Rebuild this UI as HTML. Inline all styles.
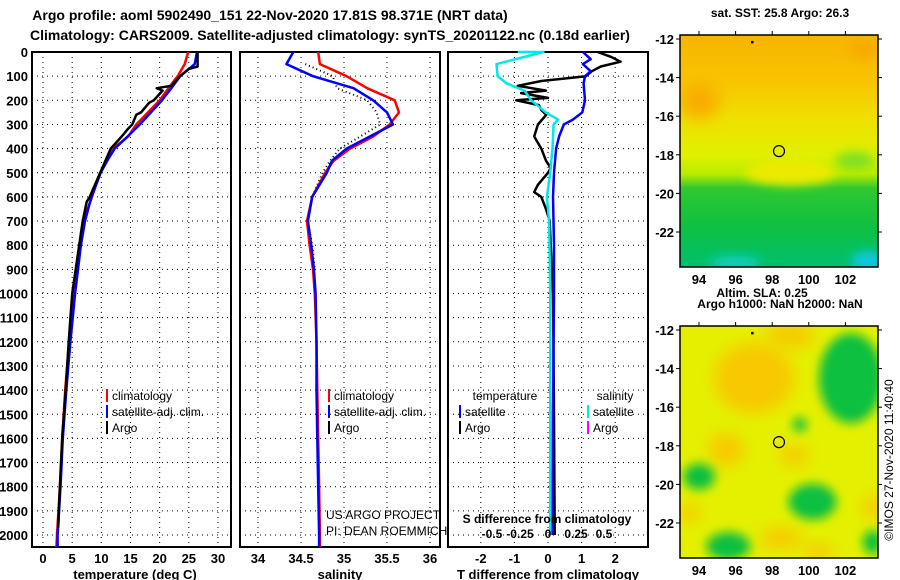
<!DOCTYPE html>
<html><head><meta charset="utf-8"><style>
html,body{margin:0;padding:0;background:#fff;}
svg{display:block;font-family:"Liberation Sans",sans-serif;font-weight:bold;}
</style></head><body>
<svg id="fig" width="900" height="580" viewBox="0 0 900 580">
<defs>
<filter id="blur8" x="-50%" y="-50%" width="200%" height="200%"><feGaussianBlur stdDeviation="8"/></filter>
<filter id="blur5" x="-50%" y="-50%" width="200%" height="200%"><feGaussianBlur stdDeviation="5"/></filter>
<linearGradient id="sstg" x1="0" y1="0" x2="0" y2="1">
<stop offset="0" stop-color="#f8b400"/><stop offset="0.2" stop-color="#f8c400"/>
<stop offset="0.36" stop-color="#f0e000"/><stop offset="0.52" stop-color="#e0f000"/>
<stop offset="0.6" stop-color="#b8ec00"/><stop offset="0.66" stop-color="#30c830"/>
<stop offset="0.82" stop-color="#10c040"/><stop offset="1" stop-color="#00c070"/></linearGradient>
<clipPath id="m1clip"><rect x="680" y="35" width="198" height="232"/></clipPath>
<clipPath id="m2clip"><rect x="680" y="326" width="198" height="232"/></clipPath>
</defs>
<text x="270" y="20" font-size="14" text-anchor="middle">Argo profile: aoml 5902490_151 22-Nov-2020 17.81S 98.371E (NRT data)</text>
<text x="330" y="40" font-size="14" text-anchor="middle">Climatology: CARS2009. Satellite-adjusted climatology: synTS_20201122.nc (0.18d earlier)</text>
<g id="plots"></g>
<g id="maps"></g>
</svg>
<script>
// ---------- data ----------
const depthTicks = [0,100,200,300,400,500,600,700,800,900,1000,1100,1200,1300,1400,1500,1600,1700,1800,1900,2000];
const tempTicks = [0,5,10,15,20,25,30];
const salTicks = [34,34.5,35,35.5,36];
const salTickLabels = ['34','34.5','35','35.5','36'];
const tdiffTicks = [-2,-1,0,1,2];
const sdiffTicks = [-0.5,-0.25,0,0.25,0.5];

const climDepth = [0,50,100,150,200,250,300,350,400,450,500,600,700,800,900,1000,1200,1400,1600,1800,2000,2050];
const climTemp  = [24.9,24.3,23.1,21.5,20,18,16,14.6,12,11,9.8,8.4,6.9,6.3,6,5.3,4.5,3.8,3.3,2.9,2.4,2.3];
const satTemp   = [26.4,26,23.5,22,20.4,18.5,16.6,14.5,12.3,11,9.9,8.3,7.2,6.5,6,5.5,4.7,4,3.4,3,2.5,2.5];
const argoDepth = [0,60,70,100,140,150,160,200,210,250,260,300,320,350,400,500,600,620,700,800,1000,1200,1400,1600,1800,1970];
const argoTemp  = [26.5,26.5,25,23.5,22,19.5,20.5,19,18.2,16.8,16,15.3,14.5,13.5,11.6,9.8,8,7.5,6.8,6.2,5,4.4,3.9,3.3,2.9,2.6];

const climSal = [34.70,34.72,35.03,35.27,35.59,35.64,35.53,35.34,35.07,34.88,34.78,34.63,34.57,34.60,34.64,34.66,34.68,34.69,34.70,34.71,34.72,34.72];
const satSal  = [34.41,34.33,34.64,35.11,35.34,35.50,35.57,35.30,35.03,34.86,34.80,34.63,34.58,34.62,34.65,34.67,34.68,34.68,34.69,34.70,34.71,34.71];
const argoSalDepth = [50,100,150,200,250,300,350,400,450,500,600,700,800,900];
const argoSal = [34.55,34.87,34.92,35.27,35.38,35.42,35.19,34.95,34.84,34.75,34.63,34.58,34.63,34.66];

const tdArgoDepth = [0,20,40,60,80,100,120,140,160,170,190,200,220,240,260,300,350,400,450,480,500,550,580,600,650,700,800,1000,1500,2000];
const tdArgo = [1.48,1.87,2.16,1.57,1.3,1.13,-0.2,-0.9,-0.06,-0.8,0,-0.95,-0.27,-0.2,-0.05,-0.3,-0.41,-0.2,-0.06,0.08,0,-0.3,-0.41,-0.2,-0.06,0.05,0.08,0.15,0.18,0.2];
const tdSatDepth = [0,30,50,80,100,130,200,250,280,300,350,400,500,600,800,1000,1500,2000];
const tdSat = [1.04,1.27,1.04,1.27,1.1,1.06,1.1,1.02,0.74,0.47,0.33,0.24,0.18,0.15,0.18,0.18,0.15,0.14];
const sdSatDepth = [0,0,50,100,130,160,200,250,280,300,400,500,600,700,1000,1500,2000];
const sdSat = [-0.27,-0.04,-0.46,-0.45,-0.37,-0.21,-0.15,-0.02,0.09,0.05,0.04,0.02,-0.01,0.01,0.02,0.02,0.02];

const lonTicks = [94,96,98,100,102];
const latTicks = [-12,-14,-16,-18,-20,-22];
const argoLon = 98.371, argoLat = -17.81;

// ---------- helpers ----------
const NS='http://www.w3.org/2000/svg';
const plots=document.getElementById('plots'), maps=document.getElementById('maps');
function mk(tag,attrs,parent){const e=document.createElementNS(NS,tag);for(const k in attrs)e.setAttribute(k,attrs[k]);parent.appendChild(e);return e;}
function txt(parent,x,y,s,size,anchor){const t=mk('text',{x:x,y:y,'font-size':size,'text-anchor':anchor||'middle'},parent);t.textContent=s;return t;}
const PT=52, PB=547;
const yD = d => PT + d*0.2415;
const panels = [
 {name:'temperature', l:32, r:231, x:v=>43+v*5.833},
 {name:'salinity', l:240, r:440, x:v=>258+(v-34)*86},
 {name:'difference', l:448, r:648, x:v=>548+v*33.6}
];
const xS = v => 548 + v*112;

panels.forEach(p=>{
  const g=mk('g',{},plots);
  
  
  const grid=mk('g',{stroke:'#000','stroke-width':1,'stroke-dasharray':'1 4'},g);
  
  
  depthTicks.forEach(d=>{ if(d>0) mk('line',{x1:p.l,x2:p.r,y1:yD(d),y2:yD(d)},grid); });
  const ticks = p.name==='temperature'?tempTicks:p.name==='salinity'?salTicks:tdiffTicks;
  ticks.forEach(v=>mk('line',{x1:p.x(v),x2:p.x(v),y1:PT,y2:PB},grid));
  const fr=mk('rect',{x:p.l,y:PT,width:p.r-p.l,height:PB-PT,fill:'none',stroke:'#000','stroke-width':2},g);
  
  
  ticks.forEach((v,i)=>{
    const lbl = p.name==='salinity'?salTickLabels[i]:String(v);
    const t=txt(g,p.x(v),563,lbl,13);
    
    
  });
});
depthTicks.forEach(d=>{
  const t=txt(plots,28,yD(d)+5,String(d),13,'end');
  
  
});
[['temperature (deg C)',135],['salinity',340],['T difference from climatology',548]].forEach(a=>{
  const t=txt(plots,a[1],579,a[0],13);
  
  
});

function line(xs,ds,xf,color,w,name,dash){
  const pts=xs.map((v,i)=>xf(v).toFixed(1)+','+yD(ds[i]).toFixed(1)).join(' ');
  const a={points:pts,fill:'none',stroke:color,'stroke-width':w,'stroke-linejoin':'round'};
  if(dash)a['stroke-dasharray']=dash;
  const e=mk('polyline',a,plots);
  
  
}
const P=panels;
line(climTemp,climDepth,P[0].x,'#ff0000',2.5,'temp-climatology-line');
line(satTemp,climDepth,P[0].x,'#0000ff',2.5,'temp-satellite-line');
line(argoTemp,argoDepth,P[0].x,'#000',2.5,'temp-argo-line');
line(argoSal,argoSalDepth,P[1].x,'#000',2,'sal-argo-line','1 3');
line(climSal,climDepth,P[1].x,'#ff0000',2.5,'sal-climatology-line');
line(satSal,climDepth,P[1].x,'#0000ff',2.5,'sal-satellite-line');
line(tdArgo,tdArgoDepth,P[2].x,'#000',2.5,'tdiff-argo-line');
line(tdSat,tdSatDepth,P[2].x,'#0000ff',2.5,'tdiff-satellite-line');
line(sdSat,sdSatDepth,xS,'#00e8e8',2.5,'sdiff-satellite-line');

function legend(x,y,color,label){
  const g=mk('g',{},plots);
  
  
  mk('line',{x1:x,x2:x,y1:y-11,y2:y+2,stroke:color,'stroke-width':2},g);
  const t=txt(g,x+5,y,label,12,'start'); t.setAttribute('font-weight','normal');
}
[[107,'#ff0000','climatology',400],[107,'#0000ff','satellite-adj. clim.',416],[107,'#000','Argo',432],
 [329,'#ff0000','climatology',400],[329,'#0000ff','satellite-adj. clim.',416],[329,'#000','Argo',432],
 [460,'#0000ff','satellite',416],[460,'#000','Argo',432],
 [588,'#00e8e8','satellite',416],[588,'#ff00ff','Argo',432]].forEach(a=>legend(a[0],a[3],a[1],a[2]));
[['temperature',505,400],['salinity',615,400]].forEach(a=>{const t=txt(plots,a[1],a[2],a[0],12);t.setAttribute('font-weight','normal');
  });
{const t=txt(plots,326,519,'US ARGO PROJECT',12,'start');t.setAttribute('font-weight','normal');}
{const t=txt(plots,326,535,'PI: DEAN ROEMMICH',12,'start');t.setAttribute('font-weight','normal');}
{const t=txt(plots,547,523,'S difference from climatology',12);}
sdiffTicks.forEach(v=>{const t=txt(plots,xS(v),538,String(v),12);});

// ---------- maps ----------
const lonX = lon => 699 + (lon-94)*18.3;
function drawMap(top,clipId,kind,title,name){
  const latY = lat => top+4 + (-12-lat)*19.3;
  const g=mk('g',{},maps);
  
  
  const c=mk('g',{'clip-path':'url(#'+clipId+')'},g);
  if(kind==='sst'){
    mk('rect',{x:680,y:top,width:198,height:232,fill:'url(#sstg)'},c);
    mk('ellipse',{cx:lonX(94),cy:latY(-15.2),rx:20,ry:18,fill:'#f8ac00',filter:'url(#blur8)'},c);
    mk('ellipse',{cx:lonX(103),cy:latY(-12.5),rx:15,ry:12,fill:'#f8ac00',filter:'url(#blur5)'},c);
    mk('ellipse',{cx:lonX(99),cy:latY(-18.9),rx:45,ry:13,fill:'#ecea00',filter:'url(#blur5)'},c);
    mk('ellipse',{cx:lonX(96),cy:latY(-23.6),rx:25,ry:7,fill:'#10d0c0',filter:'url(#blur5)'},c);
    mk('ellipse',{cx:lonX(103.2),cy:latY(-23.5),rx:16,ry:10,fill:'#10c8e0',filter:'url(#blur5)'},c);
    mk('ellipse',{cx:lonX(102.5),cy:latY(-18.3),rx:20,ry:9,fill:'#80e020',filter:'url(#blur5)'},c);
  } else {
    mk('rect',{x:680,y:top,width:198,height:232,fill:'#e4f000'},c);
    [[97,-14.5,40,35],[99,-12.3,25,12],[95.5,-18.2,18,16],[99.2,-18.5,15,10],[98.5,-22.8,22,10],[100.5,-23.5,15,8],[103.5,-21.2,10,12],[93.5,-21.5,10,10]]
      .forEach(b=>mk('ellipse',{cx:lonX(b[0]),cy:latY(b[1]),rx:b[2],ry:b[3],fill:'#f8c800',filter:'url(#blur8)'},c));
    [[102.3,-14.5,32,45],[94,-19.6,16,13],[100.2,-20.9,24,18],[95.6,-23.2,22,14],[103.5,-23,10,12],[99.5,-16.9,7,7]]
      .forEach(b=>mk('ellipse',{cx:lonX(b[0]),cy:latY(b[1]),rx:b[2],ry:b[3],fill:'#10c040',filter:'url(#blur5)'},c));
  }
  mk('rect',{x:680,y:top,width:198,height:232,fill:'none',stroke:'#000','stroke-width':1.5},g);
  lonTicks.forEach(l=>{mk('line',{x1:lonX(l),x2:lonX(l),y1:top,y2:top-4,stroke:'#000'},g);
    const t=txt(g,lonX(l),top+249,String(l),13);  });
  latTicks.forEach(l=>{mk('line',{x1:676,x2:680,y1:latY(l),y2:latY(l),stroke:'#000'},g);
    mk('line',{x1:878,x2:882,y1:latY(l),y2:latY(l),stroke:'#000'},g);
    const t=txt(g,674,latY(l)+5,String(l),13,'end');  });
  const m=mk('circle',{cx:lonX(argoLon),cy:latY(argoLat),r:5.5,fill:'none',stroke:'#000','stroke-width':1.2},g);
   
  mk('rect',{x:lonX(96.9)-1,y:latY(-12.15)-1,width:2.5,height:2.5,fill:'#000'},g);
  const t=txt(g,780,top-18,title,12);  
}
drawMap(35,'m1clip','sst','sat. SST: 25.8 Argo: 26.3','sst-map');
drawMap(326,'m2clip','sla','Argo h1000: NaN h2000: NaN','sla-map');
{const t=txt(maps,762,297,'Altim. SLA: 0.25',12);}
{const t=txt(maps,0,0,'©IMOS 27-Nov-2020 11:40:40',12,'middle');t.setAttribute('font-weight','normal');
 t.setAttribute('transform','translate(893,460) rotate(-90)');}
</script>
</body></html>
